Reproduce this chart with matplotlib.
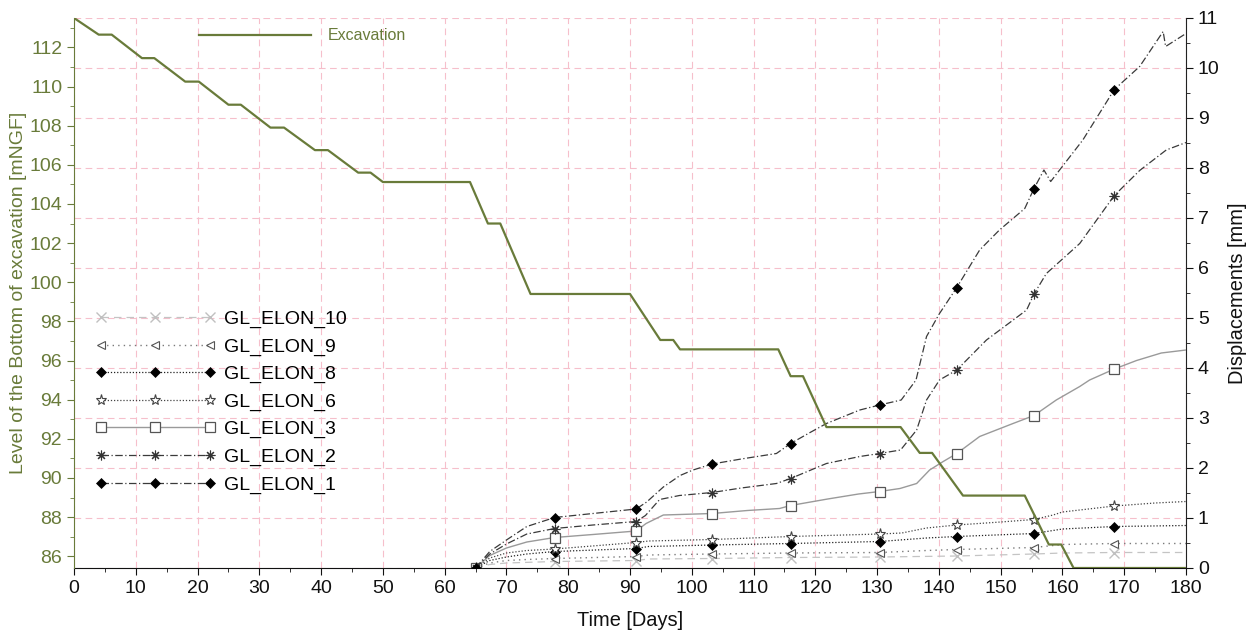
import matplotlib
matplotlib.use("Agg")
import matplotlib.pyplot as plt
from matplotlib.ticker import MultipleLocator

plt.rcParams['font.family'] = ['Liberation Sans', 'DejaVu Sans']

# ---------------- data ----------------
exc_days = [0, 4.0, 6.1, 11.0, 13.0, 18.0, 20.2, 25.0, 27.0, 31.8, 34.0, 39.0, 41.1,
            46.0, 48.0, 50.0, 64.1, 67.0, 69.0, 73.9, 90.0, 94.9, 97.0, 98.1, 114.0,
            116.0, 118.0, 121.8, 133.8, 136.9, 138.9, 143.9, 153.9, 157.8, 159.8,
            161.8, 180]
exc_level = [113.5, 112.65, 112.65, 111.45, 111.45, 110.25, 110.25, 109.07, 109.07,
             107.9, 107.9, 106.75, 106.75, 105.6, 105.6, 105.12, 105.12, 103.0, 103.0,
             99.4, 99.4, 97.05, 97.05, 96.57, 96.57, 95.2, 95.2, 92.6, 92.6, 91.28,
             91.28, 89.1, 89.1, 86.6, 86.6, 85.4, 85.4]

marker_days = [65, 77.8, 91, 103.3, 116, 130.4, 142.9, 155.4, 168.4]

gl1_days = [65, 67.3, 70, 73.3, 77.8, 84, 91, 92.7, 95.4, 98.1, 100.2, 103.3, 108, 113.7,
            116, 119, 121.8, 127.2, 130.4, 133.9, 136.3, 138, 140.1, 142.9, 146.6, 149.8,
            153.9, 155.4, 157.0, 158.1, 163.3, 168.4, 172.5, 176.3, 176.7, 180]
gl1_vals = [0, 0.33, 0.56, 0.83, 1.01, 1.09, 1.18, 1.32, 1.62, 1.85, 1.96, 2.08, 2.18, 2.29,
            2.49, 2.7, 2.89, 3.16, 3.26, 3.36, 3.76, 4.63, 5.09, 5.61, 6.36, 6.76,
            7.19, 7.59, 7.96, 7.73, 8.56, 9.57, 10.03, 10.73, 10.43, 10.69]

gl2_days = [65, 67.3, 70, 73.3, 77.8, 84, 91, 92.5, 94.8, 98, 103.3, 108, 113.7, 116, 121.8,
            127.2, 130.4, 133.8, 136.4, 138, 140.1, 142.9, 147.7, 154.2, 155.4, 157.4,
            162.8, 168.4, 172.5, 176.8, 180]
gl2_vals = [0, 0.28, 0.48, 0.68, 0.79, 0.86, 0.93, 1.05, 1.37, 1.45, 1.51, 1.6, 1.69, 1.79,
            2.09, 2.23, 2.29, 2.36, 2.76, 3.36, 3.76, 3.96, 4.56, 5.16, 5.48, 5.89,
            6.49, 7.45, 7.95, 8.36, 8.51]

gl3_days = [65, 67.3, 70, 73.3, 77.8, 84, 91, 92.6, 95.4, 103.3, 109, 114.2, 116, 122, 127,
            130.4, 133.7, 136.4, 138.5, 140.7, 142.9, 146.6, 152, 155.4, 159, 162.8, 164.4,
            168.4, 172, 176, 180]
gl3_vals = [0, 0.25, 0.4, 0.52, 0.61, 0.67, 0.74, 0.89, 1.06, 1.09, 1.15, 1.19, 1.25, 1.38,
            1.48, 1.53, 1.59, 1.69, 1.96, 2.13, 2.29, 2.63, 2.89, 3.05, 3.36, 3.63, 3.76,
            3.98, 4.15, 4.3, 4.36]

gl6_days = [65, 67.3, 70, 73.3, 77.8, 91, 93, 103.3, 116, 130.4, 134, 138, 142.9, 150, 155.4,
            158.5, 160, 168.4, 175, 180]
gl6_vals = [0, 0.2, 0.3, 0.35, 0.38, 0.51, 0.54, 0.57, 0.63, 0.68, 0.7, 0.8, 0.86, 0.92,
            0.97, 1.06, 1.12, 1.24, 1.3, 1.33]

gl8_days = [65, 67.3, 70, 73.3, 77.8, 91, 93, 103.3, 116, 130.4, 138, 142.9, 155.4, 160,
            168.4, 180]
gl8_vals = [0, 0.15, 0.22, 0.28, 0.33, 0.39, 0.43, 0.46, 0.49, 0.53, 0.6, 0.63, 0.69, 0.78,
            0.83, 0.85]

gl9_days = [65, 67.3, 70, 73.3, 77.8, 91, 93, 103.3, 116, 130.4, 138, 142.9, 155.4, 160,
            168.4, 180]
gl9_vals = [0, 0.1, 0.15, 0.17, 0.19, 0.23, 0.26, 0.28, 0.30, 0.31, 0.35, 0.37, 0.41, 0.47,
            0.49, 0.49]

gl10_days = [65, 67.3, 70, 77.8, 91, 93, 103.3, 116, 130.4, 142.9, 155.4, 160, 168.4, 180]
gl10_vals = [0, 0.07, 0.1, 0.13, 0.15, 0.18, 0.19, 0.21, 0.22, 0.24, 0.28, 0.3, 0.31, 0.31]

series_names = ['GL_ELON_10', 'GL_ELON_9', 'GL_ELON_8', 'GL_ELON_6', 'GL_ELON_3',
                'GL_ELON_2', 'GL_ELON_1']
series_days = [gl10_days, gl9_days, gl8_days, gl6_days, gl3_days, gl2_days, gl1_days]
series_vals = [gl10_vals, gl9_vals, gl8_vals, gl6_vals, gl3_vals, gl2_vals, gl1_vals]

x_ticks = list(range(0, 181, 10))
left_ticks = list(range(86, 113, 2))
right_ticks = list(range(0, 12))

# ---------------- styles ----------------
OLIVE = '#697b3a'
GRID = '#f6bfcb'
styles = [
    dict(color='#c4c4c4', ls=(0, (6, 4)), lw=0.9, marker='x', ms=7, mfc='none', mec='#c0c0c0', mew=1.0),
    dict(color='#7a7a7a', ls=(0, (1, 3)), lw=1.0, marker='<', ms=6, mfc='white', mec='#555555', mew=0.8),
    dict(color='#222222', ls=(0, (1, 1.5)), lw=0.9, marker='D', ms=5, mfc='black', mec='black', mew=0.5),
    dict(color='#444444', ls=(0, (1, 1.5)), lw=0.9, marker='*', ms=8, mfc='white', mec='#444444', mew=0.8),
    dict(color='#9a9a9a', ls='-', lw=1.0, marker='s', ms=7.5, mfc='white', mec='#555555', mew=0.9),
    dict(color='#3a3a3a', ls=(0, (6, 2, 1, 2)), lw=0.9, marker=(8, 2, 0), ms=7, mfc='none', mec='#333333', mew=0.8),
    dict(color='#3a3a3a', ls=(0, (6, 2, 1, 2)), lw=0.9, marker='D', ms=5, mfc='black', mec='black', mew=0.5),
]

fig = plt.figure(figsize=(12.47, 6.30), dpi=100)
ax = fig.add_axes([74 / 1247, 1 - 568 / 630, 1112 / 1247, 550 / 630])  # displacements (right)
axL = ax.twinx()  # excavation level (left)

ax.yaxis.tick_right()
ax.yaxis.set_label_position('right')
axL.yaxis.tick_left()
axL.yaxis.set_label_position('left')

# grid on displacement axes
ax.set_axisbelow(True)
ax.grid(True, which='major', color=GRID, ls=(0, (6, 4)), lw=0.8)

handles = []
for name, d, v, st in zip(series_names, series_days, series_vals, styles):
    me = [i for i, day in enumerate(d) if day in marker_days]
    h, = ax.plot(d, v, label=name, markevery=me, zorder=3, **st)
    handles.append(h)

exc, = axL.plot(exc_days, exc_level, color=OLIVE, lw=1.6, label='Excavation', zorder=4)

# limits & ticks
ax.set_xlim(0, 180)
ax.set_ylim(0, 11)
axL.set_ylim(85.4, 113.5)
ax.set_xticks(x_ticks)
ax.xaxis.set_minor_locator(MultipleLocator(5))
ax.set_yticks(right_ticks)
ax.yaxis.set_minor_locator(MultipleLocator(0.5))
axL.set_yticks(left_ticks)
axL.yaxis.set_minor_locator(MultipleLocator(1))

ax.tick_params(axis='x', which='major', labelsize=14, length=5, direction='out', colors='#111111')
ax.tick_params(axis='x', which='minor', length=3, direction='out', color='#111111')
ax.tick_params(axis='y', which='major', labelsize=14, length=5, direction='out', colors='#111111',
               right=True, left=False, labelright=True, labelleft=False)
ax.tick_params(axis='y', which='minor', length=3, direction='out', color='#111111', right=True, left=False)
axL.tick_params(axis='y', which='major', labelsize=14, length=5, direction='out', colors=OLIVE,
                left=True, right=False, labelleft=True, labelright=False)
axL.tick_params(axis='y', which='minor', length=3, direction='out', color=OLIVE, left=True, right=False)

for s in ['top', 'left']:
    ax.spines[s].set_visible(False)
ax.spines['right'].set_color('#222222')
ax.spines['bottom'].set_color('#111111')
for s in ['top', 'right', 'bottom']:
    axL.spines[s].set_visible(False)
axL.spines['left'].set_color(OLIVE)

ax.set_xlabel('Time [Days]', fontsize=14.4, color='#111111', labelpad=10)
ax.set_ylabel('Displacements [mm]', fontsize=14.4, color='#111111', labelpad=6)
axL.set_ylabel('Level of the Bottom of excavation [mNGF]', fontsize=14, color=OLIVE)
axL.yaxis.set_label_coords(-0.042, 0.5)

# legends
legE = axL.legend([exc], ['Excavation'], loc='upper left', bbox_to_anchor=(0.108, 0.99),
                  frameon=False, fontsize=11.5, handlelength=7.0, handletextpad=1.05,
                  borderaxespad=0, borderpad=0.3)
for t in legE.get_texts():
    t.set_color(OLIVE)

legD = ax.legend(handles, series_names, loc='upper left', bbox_to_anchor=(0.019, 0.468),
                 frameon=False, fontsize=14, numpoints=3, handlelength=6.2,
                 handletextpad=0.42, labelspacing=0.5, borderaxespad=0, borderpad=0)

fig.savefig('out.png', dpi=100)
